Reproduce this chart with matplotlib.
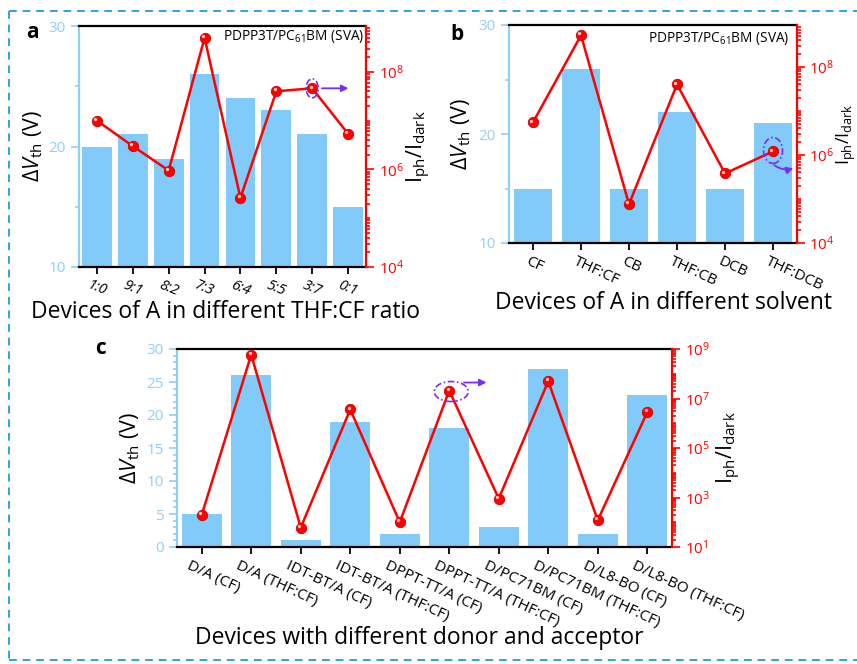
import numpy as np
import matplotlib
matplotlib.use('Agg')
import matplotlib.pyplot as plt
from matplotlib.patches import Ellipse, FancyArrowPatch
from matplotlib.ticker import LogLocator, MultipleLocator, NullFormatter, FixedLocator
import matplotlib.transforms as mtrans
from matplotlib.lines import Line2D

plt.rcParams['font.family'] = ['Open Sans', 'DejaVu Sans']
plt.rcParams['mathtext.fontset'] = 'custom'
plt.rcParams['mathtext.rm'] = 'Open Sans'
plt.rcParams['mathtext.it'] = 'Open Sans:italic'
plt.rcParams['mathtext.bf'] = 'Open Sans:bold'

# ---------------- data ----------------
ratio_labels = ['1:0', '9:1', '8:2', '7:3', '6:4', '5:5', '3:7', '0:1']
ratio_dvth = [20, 21, 19, 26, 24, 23, 21, 15]
ratio_onoff = [1.0e7, 3.0e6, 9.5e5, 5.0e8, 2.6e5, 4.0e7, 4.6e7, 5.4e6]

solvent_labels = ['CF', 'THF:CF', 'CB', 'THF:CB', 'DCB', 'THF:DCB']
solvent_dvth = [15, 26, 15, 22, 15, 21]
solvent_onoff = [5.5e6, 5.2e8, 7.6e4, 4.0e7, 3.8e5, 1.2e6]

da_labels = ['D/A (CF)', 'D/A (THF:CF)', 'IDT-BT/A (CF)', 'IDT-BT/A (THF:CF)',
             'DPPT-TT/A (CF)', 'DPPT-TT/A (THF:CF)', 'D/PC71BM (CF)',
             'D/PC71BM (THF:CF)', 'D/L8-BO (CF)', 'D/L8-BO (THF:CF)']
da_dvth = [5, 26, 1, 19, 2, 18, 3, 27, 2, 23]
da_onoff = [2.0e2, 5.9e8, 61, 3.6e6, 100, 2.1e7, 9.0e2, 5.0e7, 120, 2.8e6]

# ---------------- style ----------------
BAR = '#82CAFA'
LBLUE = '#8FD0FA'
RED = '#FF0000'
PURPLE = '#7B2CF5'
BORDER = '#2BA6DE'

W, H = 857, 664
fig = plt.figure(figsize=(W / 100, H / 100), dpi=100)


def px_rect(l, r, t, b):
    return [l / W, 1 - b / H, (r - l) / W, (b - t) / H]


def panel(rect, labels, dvth, onoff, lylim, lmaj, lmin, rylim, rmajors,
          xlabel, xlab_xy, ylab_x, rlab_x, italic_ticks, tick_shift_px,
          barw, tick_fs, rlab_fs=15.5, rpad=3.5):
    ax = fig.add_axes(px_rect(*rect))
    x = np.arange(len(labels))
    ax.bar(x, dvth, width=barw, color=BAR, zorder=2)
    ax.set_xlim(-0.5, len(labels) - 0.5)
    ax.set_ylim(*lylim)
    ax.yaxis.set_major_locator(MultipleLocator(lmaj))
    ax.yaxis.set_minor_locator(MultipleLocator(lmin))
    ax.tick_params(axis='y', which='both', colors=LBLUE, direction='out',
                   width=1.2, labelsize=11)
    ax.tick_params(axis='y', which='major', length=6)
    ax.tick_params(axis='y', which='minor', length=3)
    ax.tick_params(axis='x', colors='black', direction='out', length=5,
                   width=1.3, labelsize=tick_fs, pad=3)
    ax.set_xticks(x)
    for sp in ['top', 'bottom']:
        ax.spines[sp].set_color('black')
        ax.spines[sp].set_linewidth(1.6)
    ax.spines['left'].set_color(LBLUE)
    ax.spines['left'].set_linewidth(1.6)
    ax.spines['right'].set_visible(False)

    if italic_ticks:
        ax.set_xticklabels(labels, rotation=-22, ha='center', style='italic')
    else:
        ax.set_xticklabels(labels, rotation=-25, ha='left',
                           rotation_mode='anchor', va='top')
        off = mtrans.ScaledTranslation(-tick_shift_px / 100, 0,
                                       fig.dpi_scale_trans)
        for lab in ax.get_xticklabels():
            lab.set_transform(lab.get_transform() + off)

    ax.set_ylabel(r'$\mathit{\Delta V}_{\mathrm{th}}$ (V)', fontsize=15.5,
                  color='black')
    ax.yaxis.set_label_coords(ylab_x, 0.5)
    ax.set_xlabel(xlabel, fontsize=16.5, color='black')
    ax.xaxis.set_label_coords(*xlab_xy)
    ax.xaxis.label.set_va('center')

    ax2 = ax.twinx()
    ax2.set_yscale('log')
    ax2.set_ylim(*rylim)
    ax2.plot(x, onoff, '-', color=RED, lw=1.8, zorder=3)
    ax2.plot(x, onoff, 'o', ms=7.5, mfc=RED, mec='#D00000', mew=0.6,
             zorder=4)
    hl = ax2.transData + mtrans.ScaledTranslation(-1.2 / 72, 1.3 / 72,
                                                  fig.dpi_scale_trans)
    ax2.plot(x, onoff, 'o', ms=2.4, color='#FFC0C0', mew=0, transform=hl,
             zorder=5)
    ax2.yaxis.set_major_locator(FixedLocator(rmajors))
    ax2.yaxis.set_minor_locator(LogLocator(base=10, subs=np.arange(1, 10),
                                           numticks=100))
    ax2.yaxis.set_minor_formatter(NullFormatter())
    ax2.tick_params(axis='y', which='both', colors=RED, direction='out',
                    width=1.2, labelsize=11, pad=rpad)
    ax2.tick_params(axis='y', which='major', length=6)
    ax2.tick_params(axis='y', which='minor', length=3)
    for sp in ['left', 'top', 'bottom']:
        ax2.spines[sp].set_visible(False)
    ax2.spines['right'].set_color(RED)
    ax2.spines['right'].set_linewidth(1.6)
    ax2.set_ylabel(r'$\mathrm{I_{ph}/I_{dark}}$', fontsize=rlab_fs,
                   color='black')
    ax2.yaxis.set_label_coords(rlab_x, 0.5)
    return ax, ax2


def point_tr(ax2, xi, yi):
    return fig.dpi_scale_trans + mtrans.ScaledTranslation(xi, yi,
                                                          ax2.transData)


def circle_mark(ax2, xi, yi, w, h, dx=0, dy=0):
    tr = point_tr(ax2, xi, yi)
    e = Ellipse((dx / 100, dy / 100), w / 100, h / 100, transform=tr,
                fill=False, ec=PURPLE, lw=1.2, ls=(0, (4, 1.5, 1, 1.5)),
                clip_on=False, zorder=6)
    ax2.add_artist(e)


def arrow_mark(ax2, xi, yi, start, end, rad=0.0):
    tr = point_tr(ax2, xi, yi)
    a = FancyArrowPatch((start[0] / 100, start[1] / 100),
                        (end[0] / 100, end[1] / 100), transform=tr,
                        arrowstyle='-|>', mutation_scale=10, color=PURPLE,
                        lw=1.3, connectionstyle=f'arc3,rad={rad}',
                        clip_on=False, zorder=6)
    ax2.add_artist(a)


# ---------------- panel a ----------------
axa, axa2 = panel((79, 366, 26, 267), ratio_labels, ratio_dvth, ratio_onoff,
                  (10, 30), 10, 5, (1e4, 10 ** 8.94), [1e4, 1e6, 1e8],
                  'Devices of A in different THF:CF ratio', (0.512, -0.185),
                  -0.118, 1.136, True, 0, 0.83, 10.5)
axa.text(0.995, 0.955, r'PDPP3T/PC$_{61}$BM (SVA)', transform=axa.transAxes,
         ha='right', va='center', fontsize=9.8)
circle_mark(axa2, 6, ratio_onoff[6], 12, 19)
arrow_mark(axa2, 6, ratio_onoff[6], (7, 0), (39, 0))

# ---------------- panel b ----------------
axb, axb2 = panel((509, 797, 25, 243), solvent_labels, solvent_dvth,
                  solvent_onoff, (10, 30), 10, 5, (1e4, 10 ** 8.95),
                  [1e4, 1e6, 1e8], 'Devices of A in different solvent',
                  (0.535, -0.275), -0.125, 1.13, False, 3, 0.81, 11,
                  rlab_fs=13, rpad=2.5)
axb.text(0.972, 0.936, r'PDPP3T/PC$_{61}$BM (SVA)', transform=axb.transAxes,
         ha='right', va='center', fontsize=9.8)
circle_mark(axb2, 5, solvent_onoff[5], 19, 26, 0, 1)
arrow_mark(axb2, 5, solvent_onoff[5], (-1, -12), (23, -16), rad=0.3)

# ---------------- panel c ----------------
axc, axc2 = panel((177, 672, 349, 547), da_labels, da_dvth, da_onoff,
                  (0, 30), 5, 1, (1e1, 1e9),
                  [1e1, 1e3, 1e5, 1e7, 1e9],
                  'Devices with different donor and acceptor',
                  (0.49, -0.46), -0.071, 1.087, False, 11, 0.80, 11)
circle_mark(axc2, 5, da_onoff[5], 34, 20, 2, -1)
arrow_mark(axc2, 5, da_onoff[5], (12, 8), (40, 8))

# ---------------- panel letters ----------------
for s, (px, py) in zip(['a', 'b', 'c'], [(32, 33), (457, 35), (100, 348)]):
    fig.text(px / W, 1 - py / H, s, fontsize=15, fontweight='bold',
             ha='center', va='center')

# ---------------- dashed border ----------------
bx0, by0, by1 = 9 / W, 1 - 11 / H, 1 - 660 / H
for xs, ys in [((bx0, 1.0), (by0, by0)), ((bx0, bx0), (by0, by1)),
               ((bx0, 1.0), (by1, by1))]:
    fig.add_artist(Line2D(xs, ys, transform=fig.transFigure, color=BORDER,
                          lw=1.4, ls=(0, (4, 3))))

fig.savefig('out.png', dpi=100)
